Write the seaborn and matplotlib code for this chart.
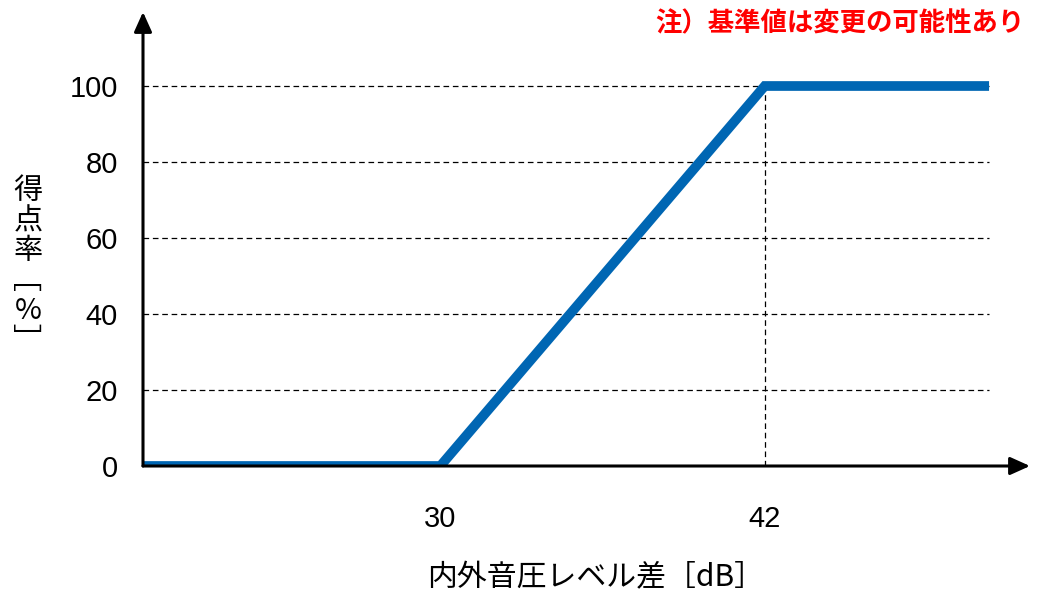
import matplotlib
matplotlib.use("Agg")
import matplotlib.pyplot as plt
import seaborn as sns
import pandas as pd

# data
x_vals = [19, 30, 42, 50.3]
y_vals = [0, 0, 100, 100]
y_ticks = [0, 20, 40, 60, 80, 100]
x_ticks = [30, 42]
x_label = "内外音圧レベル差［dB］"
y_label_chars = ["得", "点", "率", "﹇", "%", "﹈"]
note = "注）基準値は変更の可能性あり"

sns.set_theme(style="white")
plt.rcParams['font.family'] = ['Liberation Sans', 'Noto Sans CJK JP', 'DejaVu Sans']
plt.rcParams['text.color'] = 'black'
plt.rcParams['xtick.color'] = 'black'
plt.rcParams['ytick.color'] = 'black'
cjk = ['Noto Sans CJK JP', 'Liberation Sans', 'DejaVu Sans']

W, H = 1045, 595
fig = plt.figure(figsize=(W / 100, H / 100), dpi=100)
left, right, bottom, top = 143, 1030, 466, 12
ax = fig.add_axes([left / W, (H - bottom) / H, (right - left) / W, (bottom - top) / H])

xmin = 19
xmax = 42 + (right - 765) / 27.0
ax.set_xlim(xmin, xmax)
ax.set_ylim(0, (bottom - top) / 3.8)

df = pd.DataFrame({"x": x_vals, "y": y_vals})

# grid lines
for yv in y_ticks[1:]:
    ax.plot([xmin, x_vals[-1]], [yv, yv], color="black", lw=0.9, ls=(0, (4.5, 3)), zorder=1)
ax.plot([42, 42], [0, 100], color="black", lw=0.9, ls=(0, (4.5, 3)), zorder=1)

sns.lineplot(data=df, x="x", y="y", ax=ax, color="#0066B3", lw=7, zorder=3,
             solid_capstyle="butt", solid_joinstyle="miter")

for s in ax.spines.values():
    s.set_visible(False)

# axis arrows
ax.annotate("", xy=(1, 0), xytext=(0, 0), xycoords="axes fraction",
            arrowprops=dict(arrowstyle="-|>,head_length=1.0,head_width=0.45", color="black", lw=2.2,
                            shrinkA=0, shrinkB=0), zorder=5)
ax.annotate("", xy=(0, 1), xytext=(0, 0), xycoords="axes fraction",
            arrowprops=dict(arrowstyle="-|>,head_length=1.0,head_width=0.45", color="black", lw=2.2,
                            shrinkA=0, shrinkB=0), zorder=5)

ax.set_yticks(y_ticks)
ax.set_yticklabels([str(v) for v in y_ticks], fontsize=21, color="black")
ax.set_xticks(x_ticks)
ax.set_xticklabels([str(v) for v in x_ticks], fontsize=21, color="black")
ax.tick_params(axis="y", length=0, pad=18)
ax.tick_params(axis="x", length=0, pad=28)
ax.set_xlabel("")
ax.set_ylabel("")

fig.text(596 / W, 1 - 578 / H, x_label, ha="center", va="center", fontsize=21.5,
         family=cjk, color="black")
fig.text(28 / W, 1 - 266 / H, "\n".join(y_label_chars), ha="center", va="center",
         fontsize=21, family=cjk, linespacing=1.0, color="black")
fig.text(1025 / W, 1 - 24 / H, note, ha="right", va="center", fontsize=19,
         fontweight="bold", color="#FF0000", family=cjk)

fig.savefig("out.png", dpi=100)
